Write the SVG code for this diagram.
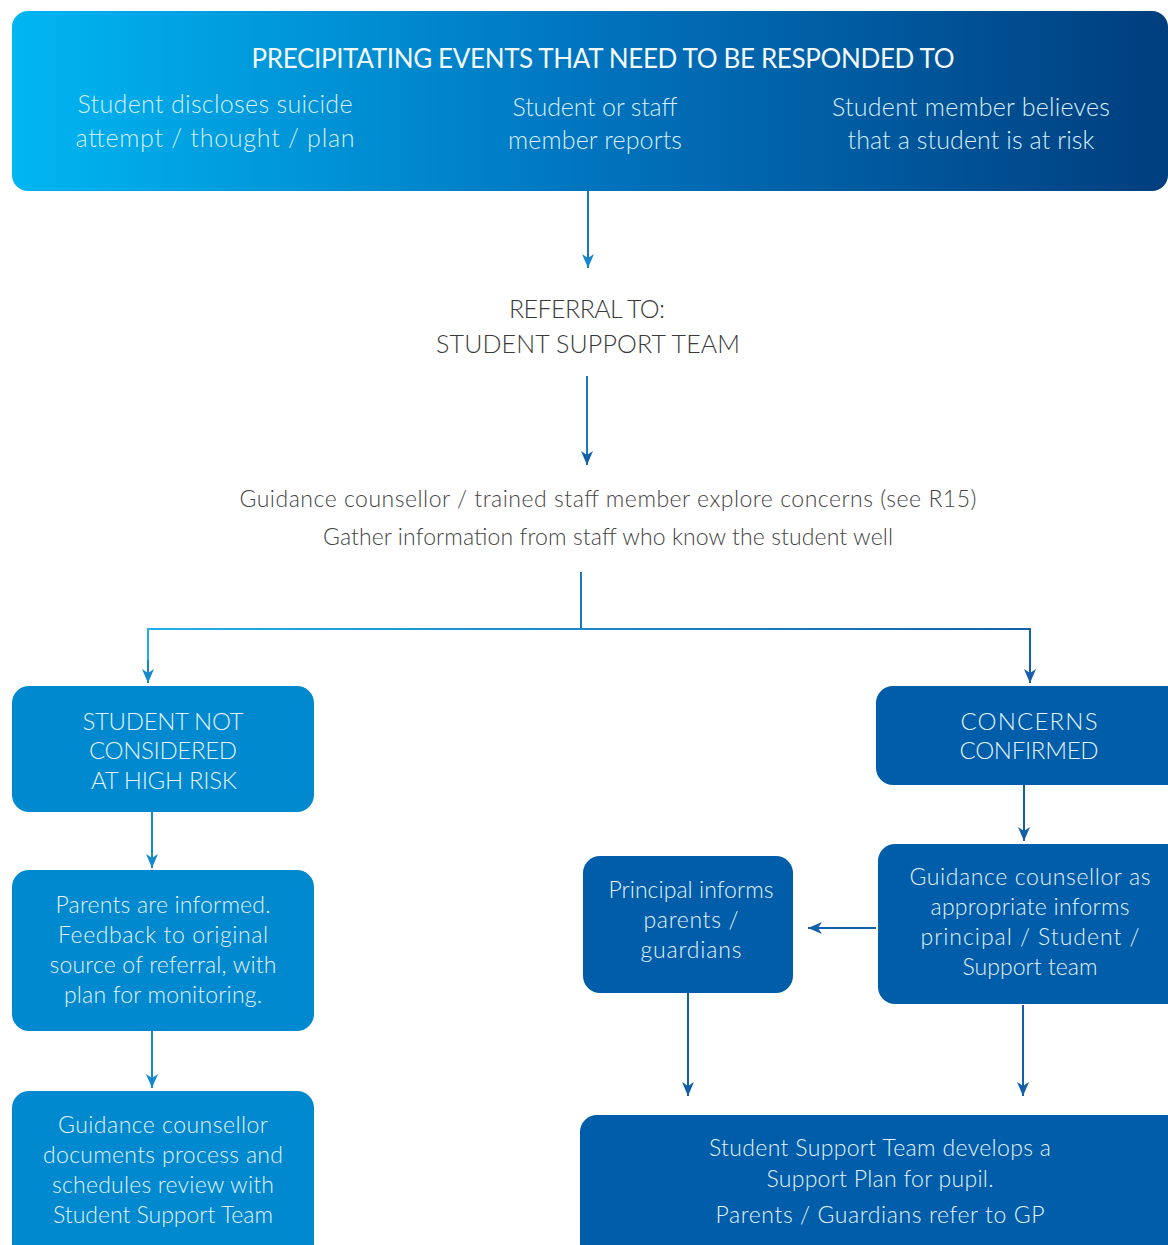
<svg xmlns="http://www.w3.org/2000/svg" width="1168" height="1245" viewBox="0 0 1168 1245">
<defs>
<linearGradient id="bannerGrad" x1="0" y1="0" x2="1" y2="0">
<stop offset="0" stop-color="#00B6F2"/>
<stop offset="0.5" stop-color="#0074BE"/>
<stop offset="1" stop-color="#003E7E"/>
</linearGradient>
<linearGradient id="hGrad" gradientUnits="userSpaceOnUse" x1="148" y1="0" x2="1030" y2="0">
<stop offset="0" stop-color="#22AEEA"/>
<stop offset="1" stop-color="#1462AB"/>
</linearGradient>
<marker id="arrL" viewBox="0 0 12 14" refX="6" refY="14" markerWidth="12" markerHeight="14" markerUnits="userSpaceOnUse">
<path d="M0,0 L6,4 L12,0 L6,14 Z" fill="#1589D0"/>
</marker>
<marker id="arrD" viewBox="0 0 12 14" refX="6" refY="14" markerWidth="12" markerHeight="14" markerUnits="userSpaceOnUse">
<path d="M0,0 L6,4 L12,0 L6,14 Z" fill="#135FA9"/>
</marker>
<marker id="arrC" viewBox="0 0 12 14" refX="6" refY="14" markerWidth="12" markerHeight="14" markerUnits="userSpaceOnUse">
<path d="M0,0 L6,4 L12,0 L6,14 Z" fill="#1A86CC"/>
</marker>
<marker id="arrLeft" viewBox="0 0 14 12" refX="0" refY="6" markerWidth="14" markerHeight="12" markerUnits="userSpaceOnUse">
<path d="M14,0 L10,6 L14,12 L0,6 Z" fill="#135FA9"/>
</marker>
<style>
text { font-family: "Lato", "Liberation Sans", sans-serif; font-weight: 300; text-anchor: middle; }
.w { fill: #E4F2FB; font-size: 23px; }
.wc { fill: #E4F2FB; font-size: 24px; }
.title { fill: #F2F8FC; font-size: 26px; font-weight: 400; }
.ban { fill: #D9EEF9; font-size: 25px; }
.g { fill: #3A3A3A; font-size: 25px; }
.g2 { fill: #444444; font-size: 23px; }
.light { fill: #0089CF; }
.dark { fill: #005DA9; }
.ln { fill: none; stroke-width: 2; }
.lc { stroke: #1579C2; }
.ll { stroke: #1589D0; }
.ld { stroke: #135FA9; }
</style>
</defs>

<g id="connectors">
<line class="ln lc" x1="588" y1="191" x2="588" y2="268" marker-end="url(#arrC)"/>
<line class="ln lc" x1="587" y1="376" x2="587" y2="465" marker-end="url(#arrD)"/>
<line class="ln lc" x1="581" y1="572" x2="581" y2="629"/>
<polyline class="ln" stroke="url(#hGrad)" points="148,683 148,629 1030,629 1030,683"/>
<line class="ln ll" x1="148" y1="660" x2="148" y2="683" marker-end="url(#arrL)"/>
<line class="ln ld" x1="1030" y1="660" x2="1030" y2="683" marker-end="url(#arrD)"/>
<line class="ln ll" x1="152" y1="812" x2="152" y2="868" marker-end="url(#arrL)"/>
<line class="ln ll" x1="152" y1="1031" x2="152" y2="1088" marker-end="url(#arrL)"/>
<line class="ln ld" x1="1024" y1="785" x2="1024" y2="841" marker-end="url(#arrD)"/>
<line class="ln ld" x1="876" y1="928" x2="808" y2="928" marker-end="url(#arrLeft)"/>
<line class="ln ld" x1="688" y1="993" x2="688" y2="1096" marker-end="url(#arrD)"/>
<line class="ln ld" x1="1023" y1="1005" x2="1023" y2="1096" marker-end="url(#arrD)"/>
</g>

<g id="banner">
<rect x="12" y="11" width="1156" height="180" rx="16" fill="url(#bannerGrad)"/>
<text class="title" x="603" y="68" textLength="703">PRECIPITATING EVENTS THAT NEED TO BE RESPONDED TO</text>
<text class="ban" x="215" y="113" textLength="275">Student discloses suicide</text>
<text class="ban" x="215" y="147" textLength="279">attempt / thought / plan</text>
<text class="ban" x="595" y="116" textLength="165">Student or staff</text>
<text class="ban" x="595" y="149" textLength="174">member reports</text>
<text class="ban" x="971" y="116" textLength="278">Student member believes</text>
<text class="ban" x="971" y="149" textLength="247">that a student is at risk</text>
</g>

<g id="referral">
<text class="g" x="587" y="318" textLength="156">REFERRAL TO:</text>
<text class="g" x="588" y="353" textLength="304">STUDENT SUPPORT TEAM</text>
</g>

<g id="explore">
<text class="g2" x="608" y="507" textLength="737">Guidance counsellor / trained staff member explore concerns (see R15)</text>
<text class="g2" x="608" y="545" textLength="570">Gather information from staff who know the student well</text>
</g>

<g id="not-high-risk">
<rect class="light" x="12" y="686" width="302" height="126" rx="17"/>
<text class="wc" x="163" y="730" textLength="161">STUDENT NOT</text>
<text class="wc" x="163" y="759" textLength="148">CONSIDERED</text>
<text class="wc" x="164" y="789" textLength="146">AT HIGH RISK</text>
</g>

<g id="parents-informed">
<rect class="light" x="12" y="870" width="302" height="161" rx="17"/>
<text class="w" x="163" y="913" textLength="215">Parents are informed.</text>
<text class="w" x="163" y="943" textLength="210">Feedback to original</text>
<text class="w" x="163" y="973" textLength="227">source of referral, with</text>
<text class="w" x="163" y="1003" textLength="198">plan for monitoring.</text>
</g>

<g id="documents">
<rect class="light" x="12" y="1091" width="302" height="175" rx="17"/>
<text class="w" x="163" y="1133" textLength="210">Guidance counsellor</text>
<text class="w" x="163" y="1163" textLength="240">documents process and</text>
<text class="w" x="163" y="1193" textLength="222">schedules review with</text>
<text class="w" x="163" y="1223" textLength="220">Student Support Team</text>
</g>

<g id="concerns-confirmed">
<rect class="dark" x="876" y="686" width="310" height="99" rx="17"/>
<text class="wc" x="1029" y="730" textLength="137">CONCERNS</text>
<text class="wc" x="1029" y="759" textLength="139">CONFIRMED</text>
</g>

<g id="counsellor-informs">
<rect class="dark" x="878" y="844" width="310" height="160" rx="17"/>
<text class="w" x="1030" y="885" textLength="241">Guidance counsellor as</text>
<text class="w" x="1030" y="915" textLength="199">appropriate informs</text>
<text class="w" x="1030" y="945" textLength="219">principal / Student /</text>
<text class="w" x="1030" y="975" textLength="135">Support team</text>
</g>

<g id="principal-informs">
<rect class="dark" x="583" y="856" width="210" height="137" rx="17"/>
<text class="w" x="691" y="898" textLength="165">Principal informs</text>
<text class="w" x="691" y="928" textLength="95">parents /</text>
<text class="w" x="691" y="958" textLength="101">guardians</text>
</g>

<g id="support-plan">
<rect class="dark" x="580" y="1115" width="610" height="160" rx="17"/>
<text class="w" x="880" y="1156" textLength="342">Student Support Team develops a</text>
<text class="w" x="880" y="1187" textLength="227">Support Plan for pupil.</text>
<text class="w" x="880" y="1223" textLength="329">Parents / Guardians refer to GP</text>
</g>
</svg>
